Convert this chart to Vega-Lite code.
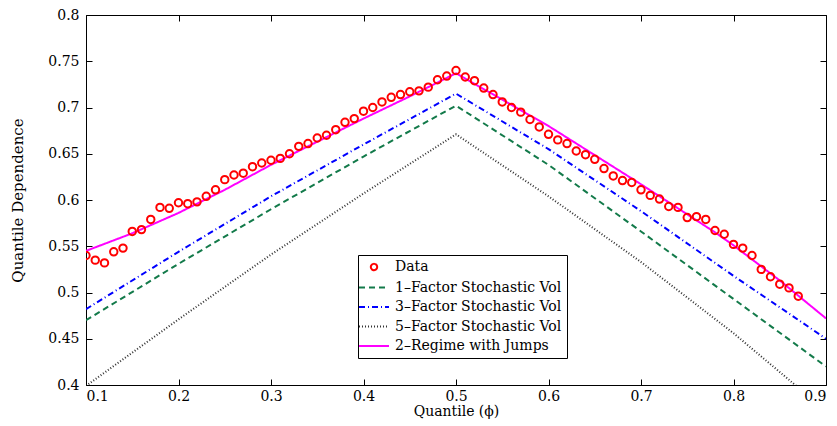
{
  "$schema": "https://vega.github.io/schema/vega-lite/v6.json",
  "width": 740,
  "height": 370,
  "autosize": {"type": "none"},
  "padding": {"left": 86, "top": 15, "right": 11, "bottom": 41},
  "background": "white",
  "config": {
    "view": {"stroke": null},
    "font": "DejaVu Serif",
    "axis": {
      "domainColor": "black",
      "domainWidth": 1,
      "tickColor": "black",
      "tickSize": -6,
      "labelColor": "black",
      "titleColor": "black",
      "labelFont": "DejaVu Serif",
      "titleFont": "DejaVu Serif",
      "labelFontSize": 14,
      "titleFontSize": 14,
      "titleFontWeight": "normal",
      "grid": false
    }
  },
  "datasets": {
    "pts": [
      {"series": "Data", "q": 0.10, "v": 0.540}, {"series": "Data", "q": 0.11, "v": 0.535},
      {"series": "Data", "q": 0.12, "v": 0.532}, {"series": "Data", "q": 0.13, "v": 0.544},
      {"series": "Data", "q": 0.14, "v": 0.548}, {"series": "Data", "q": 0.15, "v": 0.566},
      {"series": "Data", "q": 0.16, "v": 0.568}, {"series": "Data", "q": 0.17, "v": 0.579},
      {"series": "Data", "q": 0.18, "v": 0.592}, {"series": "Data", "q": 0.19, "v": 0.591},
      {"series": "Data", "q": 0.20, "v": 0.597}, {"series": "Data", "q": 0.21, "v": 0.596},
      {"series": "Data", "q": 0.22, "v": 0.598}, {"series": "Data", "q": 0.23, "v": 0.604},
      {"series": "Data", "q": 0.24, "v": 0.611}, {"series": "Data", "q": 0.25, "v": 0.622},
      {"series": "Data", "q": 0.26, "v": 0.627}, {"series": "Data", "q": 0.27, "v": 0.629},
      {"series": "Data", "q": 0.28, "v": 0.636}, {"series": "Data", "q": 0.29, "v": 0.640},
      {"series": "Data", "q": 0.30, "v": 0.643}, {"series": "Data", "q": 0.31, "v": 0.645},
      {"series": "Data", "q": 0.32, "v": 0.650}, {"series": "Data", "q": 0.33, "v": 0.658},
      {"series": "Data", "q": 0.34, "v": 0.661}, {"series": "Data", "q": 0.35, "v": 0.667},
      {"series": "Data", "q": 0.36, "v": 0.670}, {"series": "Data", "q": 0.37, "v": 0.676},
      {"series": "Data", "q": 0.38, "v": 0.684}, {"series": "Data", "q": 0.39, "v": 0.688},
      {"series": "Data", "q": 0.40, "v": 0.696}, {"series": "Data", "q": 0.41, "v": 0.700},
      {"series": "Data", "q": 0.42, "v": 0.706}, {"series": "Data", "q": 0.43, "v": 0.711},
      {"series": "Data", "q": 0.44, "v": 0.714}, {"series": "Data", "q": 0.45, "v": 0.717},
      {"series": "Data", "q": 0.46, "v": 0.718}, {"series": "Data", "q": 0.47, "v": 0.722},
      {"series": "Data", "q": 0.48, "v": 0.730}, {"series": "Data", "q": 0.49, "v": 0.734},
      {"series": "Data", "q": 0.50, "v": 0.740}, {"series": "Data", "q": 0.51, "v": 0.733},
      {"series": "Data", "q": 0.52, "v": 0.729}, {"series": "Data", "q": 0.53, "v": 0.721},
      {"series": "Data", "q": 0.54, "v": 0.714}, {"series": "Data", "q": 0.55, "v": 0.706},
      {"series": "Data", "q": 0.56, "v": 0.700}, {"series": "Data", "q": 0.57, "v": 0.695},
      {"series": "Data", "q": 0.58, "v": 0.687}, {"series": "Data", "q": 0.59, "v": 0.679},
      {"series": "Data", "q": 0.60, "v": 0.671}, {"series": "Data", "q": 0.61, "v": 0.665},
      {"series": "Data", "q": 0.62, "v": 0.661}, {"series": "Data", "q": 0.63, "v": 0.653},
      {"series": "Data", "q": 0.64, "v": 0.649}, {"series": "Data", "q": 0.65, "v": 0.644},
      {"series": "Data", "q": 0.66, "v": 0.634}, {"series": "Data", "q": 0.67, "v": 0.626},
      {"series": "Data", "q": 0.68, "v": 0.621}, {"series": "Data", "q": 0.69, "v": 0.619},
      {"series": "Data", "q": 0.70, "v": 0.611}, {"series": "Data", "q": 0.71, "v": 0.605},
      {"series": "Data", "q": 0.72, "v": 0.601}, {"series": "Data", "q": 0.73, "v": 0.593},
      {"series": "Data", "q": 0.74, "v": 0.592}, {"series": "Data", "q": 0.75, "v": 0.581},
      {"series": "Data", "q": 0.76, "v": 0.582}, {"series": "Data", "q": 0.77, "v": 0.579},
      {"series": "Data", "q": 0.78, "v": 0.567}, {"series": "Data", "q": 0.79, "v": 0.563},
      {"series": "Data", "q": 0.80, "v": 0.552}, {"series": "Data", "q": 0.81, "v": 0.548},
      {"series": "Data", "q": 0.82, "v": 0.540}, {"series": "Data", "q": 0.83, "v": 0.525},
      {"series": "Data", "q": 0.84, "v": 0.517}, {"series": "Data", "q": 0.85, "v": 0.509},
      {"series": "Data", "q": 0.86, "v": 0.505}, {"series": "Data", "q": 0.87, "v": 0.496}
    ],
    "lines": [
      {"series": "1–Factor Stochastic Vol", "q": 0.1, "v": 0.470},
      {"series": "1–Factor Stochastic Vol", "q": 0.2, "v": 0.531},
      {"series": "1–Factor Stochastic Vol", "q": 0.3, "v": 0.590},
      {"series": "1–Factor Stochastic Vol", "q": 0.4, "v": 0.647},
      {"series": "1–Factor Stochastic Vol", "q": 0.5, "v": 0.702},
      {"series": "1–Factor Stochastic Vol", "q": 0.6, "v": 0.638},
      {"series": "1–Factor Stochastic Vol", "q": 0.7, "v": 0.566},
      {"series": "1–Factor Stochastic Vol", "q": 0.8, "v": 0.493},
      {"series": "1–Factor Stochastic Vol", "q": 0.9, "v": 0.420},
      {"series": "3–Factor Stochastic Vol", "q": 0.1, "v": 0.482},
      {"series": "3–Factor Stochastic Vol", "q": 0.2, "v": 0.544},
      {"series": "3–Factor Stochastic Vol", "q": 0.3, "v": 0.604},
      {"series": "3–Factor Stochastic Vol", "q": 0.4, "v": 0.660},
      {"series": "3–Factor Stochastic Vol", "q": 0.5, "v": 0.715},
      {"series": "3–Factor Stochastic Vol", "q": 0.6, "v": 0.655},
      {"series": "3–Factor Stochastic Vol", "q": 0.7, "v": 0.588},
      {"series": "3–Factor Stochastic Vol", "q": 0.8, "v": 0.518},
      {"series": "3–Factor Stochastic Vol", "q": 0.9, "v": 0.450},
      {"series": "5–Factor Stochastic Vol", "q": 0.1, "v": 0.399},
      {"series": "5–Factor Stochastic Vol", "q": 0.2, "v": 0.471},
      {"series": "5–Factor Stochastic Vol", "q": 0.3, "v": 0.541},
      {"series": "5–Factor Stochastic Vol", "q": 0.4, "v": 0.607},
      {"series": "5–Factor Stochastic Vol", "q": 0.5, "v": 0.671},
      {"series": "5–Factor Stochastic Vol", "q": 0.6, "v": 0.604},
      {"series": "5–Factor Stochastic Vol", "q": 0.7, "v": 0.533},
      {"series": "5–Factor Stochastic Vol", "q": 0.8, "v": 0.456},
      {"series": "5–Factor Stochastic Vol", "q": 0.9, "v": 0.372},
      {"series": "2–Regime with Jumps", "q": 0.1, "v": 0.545},
      {"series": "2–Regime with Jumps", "q": 0.15, "v": 0.564},
      {"series": "2–Regime with Jumps", "q": 0.2, "v": 0.586},
      {"series": "2–Regime with Jumps", "q": 0.25, "v": 0.611},
      {"series": "2–Regime with Jumps", "q": 0.3, "v": 0.638},
      {"series": "2–Regime with Jumps", "q": 0.35, "v": 0.663},
      {"series": "2–Regime with Jumps", "q": 0.4, "v": 0.688},
      {"series": "2–Regime with Jumps", "q": 0.45, "v": 0.712},
      {"series": "2–Regime with Jumps", "q": 0.5, "v": 0.737},
      {"series": "2–Regime with Jumps", "q": 0.6, "v": 0.680},
      {"series": "2–Regime with Jumps", "q": 0.7, "v": 0.617},
      {"series": "2–Regime with Jumps", "q": 0.78, "v": 0.565},
      {"series": "2–Regime with Jumps", "q": 0.8, "v": 0.551},
      {"series": "2–Regime with Jumps", "q": 0.85, "v": 0.513},
      {"series": "2–Regime with Jumps", "q": 0.9, "v": 0.472}
    ]
  },
  "layer": [
    {
      "data": {"name": "lines"},
      "mark": {"type": "line", "clip": true, "strokeWidth": 2},
      "encoding": {
        "x": {"field": "q", "type": "quantitative", "scale": {"domain": [0.1, 0.9], "nice": false, "zero": false},
          "axis": {"orient": "bottom", "values": [0.1, 0.2, 0.3, 0.4, 0.5, 0.6, 0.7, 0.8, 0.9], "format": "~g", "title": "Quantile (ϕ)", "labelPadding": 10, "titlePadding": 1}},
        "y": {"field": "v", "type": "quantitative", "scale": {"domain": [0.4, 0.8], "nice": false, "zero": false},
          "axis": {"orient": "left", "values": [0.4, 0.45, 0.5, 0.55, 0.6, 0.65, 0.7, 0.75, 0.8], "format": "~g", "title": "Quantile Dependence", "titleFontSize": 15, "labelPadding": 13, "titlePadding": 22}},
        "color": {"field": "series", "type": "nominal",
          "scale": {"domain": ["Data", "1–Factor Stochastic Vol", "3–Factor Stochastic Vol", "5–Factor Stochastic Vol", "2–Regime with Jumps"],
                    "range": ["#ff0000", "#137a4a", "#0000ff", "#333333", "#ff00ff"]},
          "legend": {"title": null, "orient": "none", "legendX": 272, "legendY": 240, "strokeColor": "black", "fillColor": "white", "padding": 5,
            "labelFont": "DejaVu Serif", "labelFontSize": 14, "labelColor": "black", "labelLimit": 0, "symbolStrokeWidth": 2, "rowPadding": 5.5, "labelOffset": 14, "symbolOffset": 4, "symbolSize": 100,
            "encode": {"symbols": {"update": {"shape": {"signal": "datum.value === 'Data' ? 'circle' : 'M-3,0H3'"}, "size": {"signal": "datum.value === 'Data' ? 40 : 100"}}}}}},
        "strokeDash": {"field": "series", "type": "nominal",
          "scale": {"domain": ["Data", "1–Factor Stochastic Vol", "3–Factor Stochastic Vol", "5–Factor Stochastic Vol", "2–Regime with Jumps"],
                    "range": [[1, 0], [6, 4], [6, 3, 1, 3], [1, 2], [1, 0]]},
          "legend": {"title": null, "orient": "none", "legendX": 272, "legendY": 240}}
      }
    },
    {
      "data": {"name": "pts"},
      "mark": {"type": "point", "filled": false, "size": 55, "strokeWidth": 2, "opacity": 1, "clip": true},
      "encoding": {
        "x": {"field": "q", "type": "quantitative", "axis": null},
        "y": {"field": "v", "type": "quantitative", "axis": null},
        "color": {"field": "series", "type": "nominal", "legend": null}
      }
    },
    {
      "data": {"name": "pts"},
      "mark": {"type": "point", "opacity": 0},
      "encoding": {
        "x": {"field": "q", "type": "quantitative", "axis": {"orient": "top", "values": [0.1, 0.2, 0.3, 0.4, 0.5, 0.6, 0.7, 0.8, 0.9], "labels": false, "title": null}},
        "y": {"field": "v", "type": "quantitative", "axis": {"orient": "right", "values": [0.4, 0.45, 0.5, 0.55, 0.6, 0.65, 0.7, 0.75, 0.8], "labels": false, "title": null}}
      }
    }
  ],
  "resolve": {"axis": {"x": "independent", "y": "independent"}}
}
